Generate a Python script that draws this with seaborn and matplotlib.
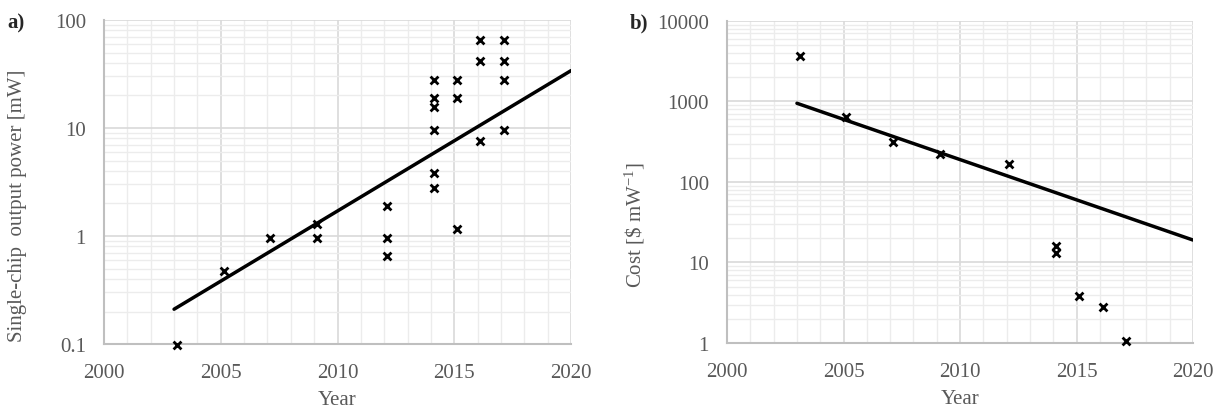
import numpy as np
import seaborn as sns
import pandas as pd
import matplotlib.pyplot as plt
from matplotlib.ticker import LogLocator, FixedLocator, FuncFormatter, NullFormatter

# panel a: single-chip output power
power_years = [2003, 2005, 2007, 2009, 2009, 2012, 2012, 2012,
               2014, 2014, 2014, 2014, 2014, 2014, 2015, 2015, 2015,
               2016, 2016, 2016, 2017, 2017, 2017, 2017]
power_mw = [0.097, 0.47, 0.95, 1.3, 0.95, 1.9, 0.95, 0.65,
            28, 19, 15.5, 9.5, 3.8, 2.8, 28, 19, 1.15,
            65, 42, 7.5, 65, 42, 28, 9.5]
power_trend_years = [2003, 2020]
power_trend = [0.21, 34]

# panel b: cost per mW
cost_years = [2003, 2005, 2007, 2009, 2012, 2014, 2014, 2015, 2016, 2017]
cost_per_mw = [3700, 640, 310, 225, 165, 16, 13, 3.8, 2.8, 1.05]
cost_trend_years = [2003, 2020]
cost_trend = [950, 19]

offset = 0.12  # points sit slightly right of the year line

sns.set_style("white")
plt.rcParams['font.family'] = ['Liberation Serif', 'DejaVu Serif']
plt.rcParams['mathtext.fontset'] = 'stix'

tick_col = '#595959'
fs = 15
fig = plt.figure(figsize=(12.15, 4.1), dpi=100)
ax_a = fig.add_axes([0.0856, 0.1585, 0.3844, 0.7903])
ax_b = fig.add_axes([0.5984, 0.1610, 0.3835, 0.7854])


def style_axis(ax, ylim, ylabel, ylab_x, ylab_y):
    ax.set_yscale('log')
    ax.set_xlim(2000, 2020)
    ax.set_ylim(*ylim)
    ax.xaxis.set_major_locator(FixedLocator([2000, 2005, 2010, 2015, 2020]))
    ax.xaxis.set_minor_locator(FixedLocator(np.arange(2000, 2021, 1)))
    ax.yaxis.set_major_locator(LogLocator(base=10))
    ax.yaxis.set_minor_locator(LogLocator(base=10, subs=np.arange(2, 10)))
    ax.yaxis.set_major_formatter(FuncFormatter(lambda v, p: f"{v:g}"))
    ax.yaxis.set_minor_formatter(NullFormatter())
    ax.grid(which='minor', color='#ececec', linewidth=1.0)
    ax.grid(which='major', color='#d9d9d9', linewidth=1.2)
    ax.set_axisbelow(True)
    for s in ['top', 'right']:
        ax.spines[s].set_visible(False)
    for s in ['left', 'bottom']:
        ax.spines[s].set_color('#bfbfbf')
        ax.spines[s].set_linewidth(1.5)
    ax.tick_params(which='both', length=0, labelsize=fs, colors=tick_col)
    ax.tick_params(axis='y', pad=13)
    ax.tick_params(axis='x', pad=14)
    ax.set_xlabel('Year', fontsize=fs, color=tick_col)
    ax.xaxis.set_label_coords(0.5, -0.142)
    ax.set_ylabel(ylabel, fontsize=fs, color=tick_col)
    ax.yaxis.set_label_coords(ylab_x, ylab_y)


df_a = pd.DataFrame({'year': np.array(power_years) + offset, 'value': power_mw})
df_b = pd.DataFrame({'year': np.array(cost_years) + offset, 'value': cost_per_mw})

sns.lineplot(x=power_trend_years, y=power_trend, ax=ax_a, color='black', linewidth=2.5)
sns.scatterplot(data=df_a, x='year', y='value', ax=ax_a, marker='x', color='black',
                s=32, linewidth=2, zorder=5, clip_on=False)
style_axis(ax_a, (0.1, 100), 'Single-chip  output power [mW]', -0.165, 0.43)

sns.lineplot(x=cost_trend_years, y=cost_trend, ax=ax_b, color='black', linewidth=2.5)
sns.scatterplot(data=df_b, x='year', y='value', ax=ax_b, marker='x', color='black',
                s=32, linewidth=2, zorder=5, clip_on=False)
style_axis(ax_b, (1, 10000), r'Cost [\$ mW$^{\mathregular{-1}}$]', -0.172, 0.37)

fig.text(0.006, 0.93, 'a)', fontsize=15, fontweight='bold')
fig.text(0.518, 0.93, 'b)', fontsize=15, fontweight='bold')

plt.savefig('out.png', dpi=100)
